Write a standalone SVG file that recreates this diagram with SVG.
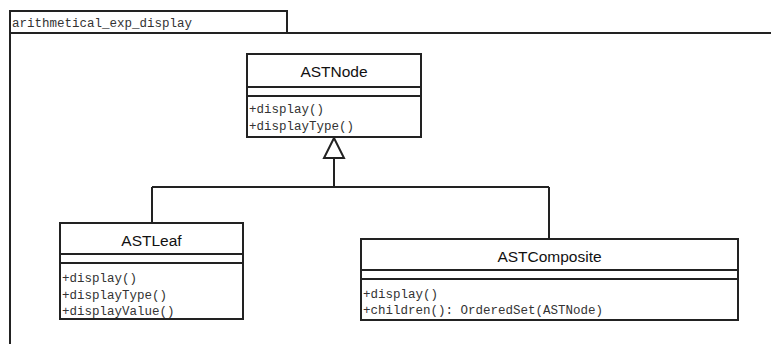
<svg xmlns="http://www.w3.org/2000/svg" width="771" height="344" viewBox="0 0 771 344">
<style>
.box{fill:#fff;stroke:#222;stroke-width:2}
.ln{fill:none;stroke:#222;stroke-width:2}
.nm{font-family:"Liberation Sans",Arial,sans-serif;font-size:15.5px;fill:#111;text-anchor:middle}
.op{font-family:"Liberation Mono","Courier New",monospace;font-size:12.5px;fill:#333}
</style>
<rect width="771" height="344" fill="#fff"/>
<g id="package">
<rect class="box" x="10" y="11" width="277" height="22"/>
<path class="ln" d="M10 33 H772 M10 33 V345"/>
<text class="op" x="12" y="27">arithmetical_exp_display</text>
</g>
<g id="connectors">
<path class="ln" d="M334 158 V187 M152 187 H549 M152 187 V223 M549 187 V239"/>
<polygon class="box" points="334,138 324,158 344,158"/>
</g>
<g id="ASTNode">
<rect class="box" x="247" y="54" width="174" height="83"/>
<path class="ln" d="M247 87 H421 M247 96 H421"/>
<text class="nm" x="334" y="77">ASTNode</text>
<text class="op" x="249" y="113">+display()</text>
<text class="op" x="249" y="130">+displayType()</text>
</g>
<g id="ASTLeaf">
<rect class="box" x="60" y="223" width="183" height="96"/>
<path class="ln" d="M60 254 H243 M60 263 H243"/>
<text class="nm" x="151.5" y="246">ASTLeaf</text>
<text class="op" x="62" y="282">+display()</text>
<text class="op" x="62" y="298.5">+displayType()</text>
<text class="op" x="62" y="315">+displayValue()</text>
</g>
<g id="ASTComposite">
<rect class="box" x="361" y="239" width="377" height="81"/>
<path class="ln" d="M361 270 H738 M361 279 H738"/>
<text class="nm" x="549.5" y="262">ASTComposite</text>
<text class="op" x="363" y="298">+display()</text>
<text class="op" x="363" y="314">+children(): OrderedSet(ASTNode)</text>
</g>
</svg>
